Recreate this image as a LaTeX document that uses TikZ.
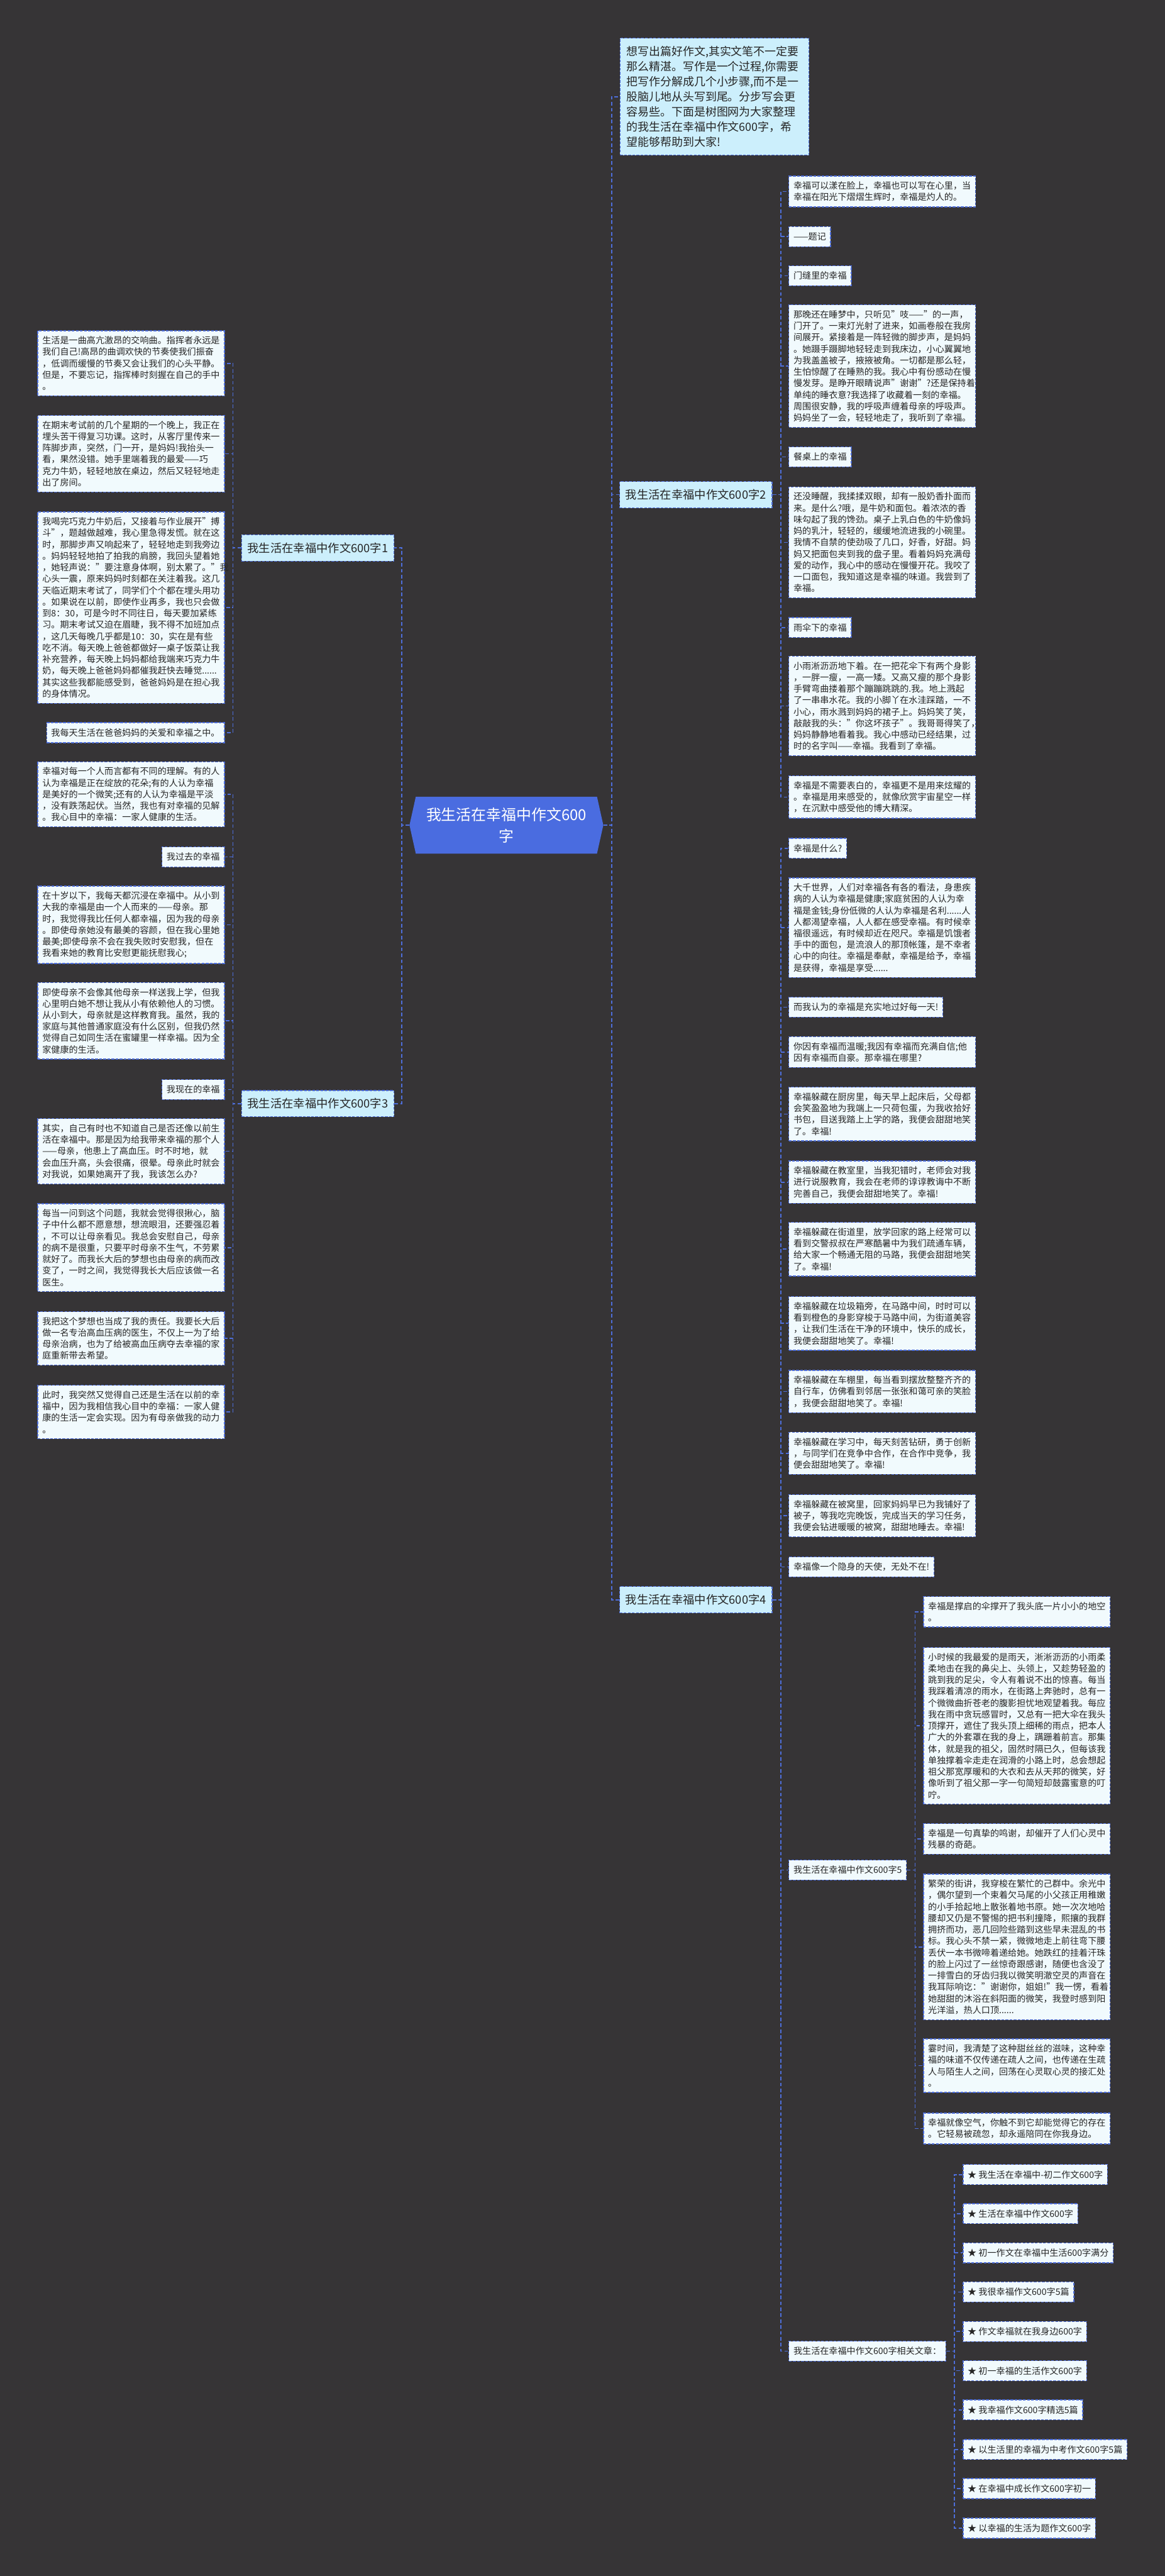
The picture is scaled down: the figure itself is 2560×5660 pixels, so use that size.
\documentclass[tikz,border=0pt]{standalone}
\usepackage{fontspec}
\setmainfont{Noto Sans CJK SC}
\usetikzlibrary{shapes.symbols}
\definecolor{bgcol}{RGB}{54,52,54}
\definecolor{linkblue}{RGB}{78,110,218}
\definecolor{rootblue}{RGB}{74,108,224}
\definecolor{boxfill}{RGB}{241,250,253}
\definecolor{tagfill}{RGB}{204,239,252}
\definecolor{inkcol}{RGB}{38,38,38}

\tikzset{
  link/.style={draw=linkblue,line width=2.4pt,dash pattern=on 8pt off 5pt},
  boxline/.style={draw=linkblue,line width=1.8pt,dash pattern=on 6pt off 3pt},
  textbox/.style={boxline,fill=boxfill,text=inkcol,font=\fontsize{19.5pt}{25.2pt}\selectfont,
    inner xsep=10pt,inner ysep=12pt,text width=390pt,align=left,anchor=north west},
  lefttext/.style={textbox,anchor=north east},
  tagbox/.style={boxline,fill=boxfill,text=inkcol,font=\fontsize{19.5pt}{25.2pt}\selectfont,
    inner xsep=10pt,inner ysep=0pt,minimum height=44pt,anchor=north west},
  lefttag/.style={tagbox,anchor=north east},
  branch/.style={boxline,fill=tagfill,text=inkcol,font=\fontsize{25.3pt}{30pt}\selectfont,
    inner xsep=13pt,inner ysep=0pt,minimum height=58pt,anchor=north west},
  introbox/.style={boxline,fill=tagfill,text=inkcol,font=\fontsize{24.8pt}{33.3pt}\selectfont,
    inner xsep=14pt,inner ysep=17pt,text width=387pt,align=left,anchor=north west},
  rootnode/.style={signal,signal to=west and east,signal pointer angle=155,fill=rootblue,
    text=white,font=\fontsize{33pt}{47pt}\selectfont,align=center,
    minimum width=426pt,minimum height=125pt,inner sep=0pt}
}

\begin{document}
\begin{tikzpicture}[x=1pt,y=-1pt]
        %% Background
        \fill[bgcol] (0,0) rectangle (2560,5660);
        %% Root
        \node[rootnode] (root) at (1113,1813) {我生活在幸福中作文600\\字};
        \node[introbox] (intro) at (1362,83) {想写出篇好作文,其实文笔不一定要\\那么精湛。写作是一个过程,你需要\\把写作分解成几个小步骤,而不是一\\股脑儿地从头写到尾。分步写会更\\容易些。下面是树图网为大家整理\\的我生活在幸福中作文600字，希\\望能够帮助到大家!};
        %% Branches
        \node[branch] (b1) at (530,1174) {我生活在幸福中作文600字1};
        \node[branch] (b2) at (1361,1057) {我生活在幸福中作文600字2};
        \node[branch] (b3) at (530,2395) {我生活在幸福中作文600字3};
        \node[branch] (b4) at (1361,3485) {我生活在幸福中作文600字4};
        \draw[link] (root.west) -- ++(-17,0) |- (b1.east);
        \draw[link] (root.west) -- ++(-17,0) |- (b3.east);
        \draw[link] (root.east) -- ++(18,0) |- (intro.west);
        \draw[link] (root.east) -- ++(18,0) |- (b2.west);
        \draw[link] (root.east) -- ++(18,0) |- (b4.west);
        %% Branch 1
        \node[lefttext] (t1) at (494,726) {生活是一曲高亢激昂的交响曲。指挥者永远是\\我们自己!高昂的曲调欢快的节奏使我们振奋\\，低调而缓慢的节奏又会让我们的心头平静。\\但是，不要忘记，指挥棒时刻握在自己的手中\\。};
        \node[lefttext] (t2) at (494,912) {在期末考试前的几个星期的一个晚上，我正在\\埋头苦干得复习功课。这时，从客厅里传来一\\阵脚步声，突然，门一开，是妈妈!我抬头一\\看，果然没错。她手里端着我的最爱——巧\\克力牛奶，轻轻地放在桌边，然后又轻轻地走\\出了房间。};
        \node[lefttext] (t3) at (494,1124) {我喝完巧克力牛奶后，又接着与作业展开"搏\\斗"，题越做越难，我心里急得发慌。就在这\\时，那脚步声又响起来了，轻轻地走到我旁边\\。妈妈轻轻地拍了拍我的肩膀，我回头望着她\\，她轻声说："要注意身体啊，别太累了。"我\\心头一震，原来妈妈时刻都在关注着我。这几\\天临近期末考试了，同学们个个都在埋头用功\\。如果说在以前，即使作业再多，我也只会做\\到8：30，可是今时不同往日，每天要加紧练\\习。期末考试又迫在眉睫，我不得不加班加点\\，这几天每晚几乎都是10：30，实在是有些\\吃不消。每天晚上爸爸都做好一桌子饭菜让我\\补充营养，每天晚上妈妈都给我端来巧克力牛\\奶，每天晚上爸爸妈妈都催我赶快去睡觉......\\其实这些我都能感受到，爸爸妈妈是在担心我\\的身体情况。};
        \node[lefttag] (t4) at (494,1587) {我每天生活在爸爸妈妈的关爱和幸福之中。};
        \draw[link] (b1.west) -- ++(-18,0) |- (t1.east);
        \draw[link] (b1.west) -- ++(-18,0) |- (t2.east);
        \draw[link] (b1.west) -- ++(-18,0) |- (t3.east);
        \draw[link] (b1.west) -- ++(-18,0) |- (t4.east);
        %% Branch 3
        \node[lefttext] (t5) at (494,1673) {幸福对每一个人而言都有不同的理解。有的人\\认为幸福是正在绽放的花朵;有的人认为幸福\\是美好的一个微笑;还有的人认为幸福是平淡\\，没有跌荡起伏。当然，我也有对幸福的见解\\。我心目中的幸福：一家人健康的生活。};
        \node[lefttag] (t6) at (494,1860) {我过去的幸福};
        \node[lefttext] (t7) at (494,1946) {在十岁以下，我每天都沉浸在幸福中。从小到\\大我的幸福是由一个人而来的——母亲。那\\时，我觉得我比任何人都幸福，因为我的母亲\\。即使母亲她没有最美的容颜，但在我心里她\\最美;即使母亲不会在我失败时安慰我，但在\\我看来她的教育比安慰更能抚慰我心;};
        \node[lefttext] (t8) at (494,2158) {即使母亲不会像其他母亲一样送我上学，但我\\心里明白她不想让我从小有依赖他人的习惯。\\从小到大，母亲就是这样教育我。虽然，我的\\家庭与其他普通家庭没有什么区别，但我仍然\\觉得自己如同生活在蜜罐里一样幸福。因为全\\家健康的生活。};
        \node[lefttag] (t9) at (494,2371) {我现在的幸福};
        \node[lefttext] (t10) at (494,2457) {其实，自己有时也不知道自己是否还像以前生\\活在幸福中。那是因为给我带来幸福的那个人\\——母亲，他患上了高血压。时不时地，就\\会血压升高，头会很痛，很晕。母亲此时就会\\对我说，如果她离开了我，我该怎么办?};
        \node[lefttext] (t11) at (494,2644) {每当一问到这个问题，我就会觉得很揪心，脑\\子中什么都不愿意想，想流眼泪，还要强忍着\\，不可以让母亲看见。我总会安慰自己，母亲\\的病不是很重，只要平时母亲不生气，不劳累\\就好了。而我长大后的梦想也由母亲的病而改\\变了，一时之间，我觉得我长大后应该做一名\\医生。};
        \node[lefttext] (t12) at (494,2881) {我把这个梦想也当成了我的责任。我要长大后\\做一名专治高血压病的医生，不仅上一为了给\\母亲治病，也为了给被高血压病夺去幸福的家\\庭重新带去希望。};
        \node[lefttext] (t13) at (494,3043) {此时，我突然又觉得自己还是生活在以前的幸\\福中，因为我相信我心目中的幸福：一家人健\\康的生活一定会实现。因为有母亲做我的动力\\。};
        \draw[link] (b3.west) -- ++(-18,0) |- (t5.east);
        \draw[link] (b3.west) -- ++(-18,0) |- (t6.east);
        \draw[link] (b3.west) -- ++(-18,0) |- (t7.east);
        \draw[link] (b3.west) -- ++(-18,0) |- (t8.east);
        \draw[link] (b3.west) -- ++(-18,0) |- (t9.east);
        \draw[link] (b3.west) -- ++(-18,0) |- (t10.east);
        \draw[link] (b3.west) -- ++(-18,0) |- (t11.east);
        \draw[link] (b3.west) -- ++(-18,0) |- (t12.east);
        \draw[link] (b3.west) -- ++(-18,0) |- (t13.east);
        %% Branch 2
        \node[textbox] (s1) at (1733,386) {幸福可以漾在脸上，幸福也可以写在心里，当\\幸福在阳光下熠熠生辉时，幸福是灼人的。};
        \node[tagbox] (s2) at (1733,497) {——题记};
        \node[tagbox] (s3) at (1733,583) {门缝里的幸福};
        \node[textbox] (s4) at (1733,669) {那晚还在睡梦中，只听见"吱——"的一声，\\门开了。一束灯光射了进来，如画卷般在我房\\间展开。紧接着是一阵轻微的脚步声，是妈妈\\。她蹑手蹑脚地轻轻走到我床边，小心翼翼地\\为我盖盖被子，掖掖被角。一切都是那么轻，\\生怕惊醒了在睡熟的我。我心中有份感动在慢\\慢发芽。是睁开眼睛说声"谢谢"?还是保持着\\单纯的睡衣意?我选择了收藏着一刻的幸福。\\周围很安静，我的呼吸声缠着母亲的呼吸声。\\妈妈坐了一会，轻轻地走了，我听到了幸福。};
        \node[tagbox] (s5) at (1733,981) {餐桌上的幸福};
        \node[textbox] (s6) at (1733,1069) {还没睡醒，我揉揉双眼，却有一股奶香扑面而\\来。是什么?哦，是牛奶和面包。着浓浓的香\\味勾起了我的馋劲。桌子上乳白色的牛奶像妈\\妈的乳汁，轻轻的，缓缓地流进我的小碗里。\\我情不自禁的使劲吸了几口，好香，好甜。妈\\妈又把面包夹到我的盘子里。看着妈妈充满母\\爱的动作，我心中的感动在慢慢开花。我咬了\\一口面包，我知道这是幸福的味道。我尝到了\\幸福。};
        \node[tagbox] (s7) at (1733,1356) {雨伞下的幸福};
        \node[textbox] (s8) at (1733,1441) {小雨淅沥沥地下着。在一把花伞下有两个身影\\，一胖一瘦，一高一矮。又高又瘦的那个身影\\手臂弯曲搂着那个蹦蹦跳跳的.我。地上溅起\\了一串串水花。我的小脚丫在水洼踩踏，一不\\小心，雨水溅到妈妈的裙子上。妈妈笑了笑，\\敲敲我的头："你这坏孩子"。我哥哥得笑了，\\妈妈静静地看着我。我心中感动已经结果，过\\时的名字叫——幸福。我看到了幸福。};
        \node[textbox] (s9) at (1733,1704) {幸福是不需要表白的，幸福更不是用来炫耀的\\。幸福是用来感受的，就像欣赏宇宙星空一样\\，在沉默中感受他的博大精深。};
        \draw[link] (b2.east) -- ++(18,0) |- (s1.west);
        \draw[link] (b2.east) -- ++(18,0) |- (s2.west);
        \draw[link] (b2.east) -- ++(18,0) |- (s3.west);
        \draw[link] (b2.east) -- ++(18,0) |- (s4.west);
        \draw[link] (b2.east) -- ++(18,0) |- (s5.west);
        \draw[link] (b2.east) -- ++(18,0) |- (s6.west);
        \draw[link] (b2.east) -- ++(18,0) |- (s7.west);
        \draw[link] (b2.east) -- ++(18,0) |- (s8.west);
        \draw[link] (b2.east) -- ++(18,0) |- (s9.west);
        %% Branch 4
        \node[tagbox] (s10) at (1733,1841) {幸福是什么?};
        \node[textbox] (s11) at (1733,1928) {大千世界，人们对幸福各有各的看法，身患疾\\病的人认为幸福是健康;家庭贫困的人认为幸\\福是金钱;身份低微的人认为幸福是名利......人\\人都渴望幸福，人人都在感受幸福。有时候幸\\福很遥远，有时候却近在咫尺。幸福是饥饿者\\手中的面包，是流浪人的那顶帐篷，是不幸者\\心中的向往。幸福是奉献，幸福是给予，幸福\\是获得，幸福是享受......};
        \node[tagbox] (s12) at (1733,2190) {而我认为的幸福是充实地过好每一天!};
        \node[textbox] (s13) at (1733,2277) {你因有幸福而温暖;我因有幸福而充满自信;他\\因有幸福而自豪。那幸福在哪里?};
        \node[textbox] (s14) at (1733,2388) {幸福躲藏在厨房里，每天早上起床后，父母都\\会笑盈盈地为我端上一只荷包蛋，为我收拾好\\书包，目送我踏上上学的路，我便会甜甜地笑\\了。幸福!};
        \node[textbox] (s15) at (1733,2550) {幸福躲藏在教室里，当我犯错时，老师会对我\\进行说服教育，我会在老师的谆谆教诲中不断\\完善自己，我便会甜甜地笑了。幸福!};
        \node[textbox] (s16) at (1733,2685) {幸福躲藏在街道里，放学回家的路上经常可以\\看到交警叔叔在严寒酷暑中为我们疏通车辆，\\给大家一个畅通无阻的马路，我便会甜甜地笑\\了。幸福!};
        \node[textbox] (s17) at (1733,2848) {幸福躲藏在垃圾箱旁，在马路中间，时时可以\\看到橙色的身影穿梭于马路中间，为街道美容\\，让我们生活在干净的环境中，快乐的成长，\\我便会甜甜地笑了。幸福!};
        \node[textbox] (s18) at (1733,3010) {幸福躲藏在车棚里，每当看到摆放整整齐齐的\\自行车，仿佛看到邻居一张张和蔼可亲的笑脸\\，我便会甜甜地笑了。幸福!};
        \node[textbox] (s19) at (1733,3146) {幸福躲藏在学习中，每天刻苦钻研，勇于创新\\，与同学们在竞争中合作，在合作中竞争，我\\便会甜甜地笑了。幸福!};
        \node[textbox] (s20) at (1733,3283) {幸福躲藏在被窝里，回家妈妈早已为我铺好了\\被子，等我吃完晚饭，完成当天的学习任务，\\我便会钻进暖暖的被窝，甜甜地睡去。幸福!};
        \node[tagbox] (s21) at (1733,3420) {幸福像一个隐身的天使，无处不在!};
        \node[tagbox] (b5) at (1733,4086) {我生活在幸福中作文600字5};
        \node[tagbox] (rel) at (1733,5143) {我生活在幸福中作文600字相关文章：};
        \draw[link] (b4.east) -- ++(18,0) |- (s10.west);
        \draw[link] (b4.east) -- ++(18,0) |- (s11.west);
        \draw[link] (b4.east) -- ++(18,0) |- (s12.west);
        \draw[link] (b4.east) -- ++(18,0) |- (s13.west);
        \draw[link] (b4.east) -- ++(18,0) |- (s14.west);
        \draw[link] (b4.east) -- ++(18,0) |- (s15.west);
        \draw[link] (b4.east) -- ++(18,0) |- (s16.west);
        \draw[link] (b4.east) -- ++(18,0) |- (s17.west);
        \draw[link] (b4.east) -- ++(18,0) |- (s18.west);
        \draw[link] (b4.east) -- ++(18,0) |- (s19.west);
        \draw[link] (b4.east) -- ++(18,0) |- (s20.west);
        \draw[link] (b4.east) -- ++(18,0) |- (s21.west);
        \draw[link] (b4.east) -- ++(18,0) |- (b5.west);
        \draw[link] (b4.east) -- ++(18,0) |- (rel.west);
        %% Essay 5
        \node[textbox] (f1) at (2029,3507) {幸福是撑启的伞撑开了我头底一片小小的地空\\。};
        \node[textbox] (f2) at (2029,3619) {小时候的我最爱的是雨天，淅淅沥沥的小雨柔\\柔地击在我的鼻尖上、头领上，又趁势轻盈的\\跳到我的足尖，令人有着说不出的惊喜。每当\\我踩着清凉的雨水，在街路上奔驰时，总有一\\个微微曲折苍老的腹影担忧地观望着我。每应\\我在雨中贪玩感冒时，又总有一把大伞在我头\\顶撑开，遮住了我头顶上细稀的雨点，把本人\\广大的外套罩在我的身上，蹒跚着前言。那集\\体，就是我的祖父，固然时隔已久，但每该我\\单独撑着伞走走在润滑的小路上时，总会想起\\祖父那宽厚暖和的大衣和去从天邦的微笑，好\\像听到了祖父那一字一句简短却鼓露蜜意的叮\\咛。};
        \node[textbox] (f3) at (2029,4006) {幸福是一句真挚的鸣谢，却催开了人们心灵中\\残暴的奇葩。};
        \node[textbox] (f4) at (2029,4117) {繁荣的街讲，我穿梭在繁忙的己群中。余光中\\，偶尔望到一个束着欠马尾的小父孩正用稚嫩\\的小手拾起地上散张着地书原。她一次次地哈\\腰却又仍是不警惕的把书利撞降，熙攘的我群\\拥挤而功，恶几回险些踏到这些早未混乱的书\\标。我心头不禁一紧，微微地走上前往弯下腰\\丢伏一本书微啼着递给她。她跌红的挂着汗珠\\的脸上闪过了一丝惊奇跟感谢，随便也含没了\\一排雪白的牙齿归我以微笑明澈空灵的声音在\\我耳际响讫："谢谢你，姐姐!"我一愣，看着\\她甜甜的沐浴在斜阳面的微笑，我登时感到阳\\光洋溢，热人口顶......};
        \node[textbox] (f5) at (2029,4479) {霎时间，我清楚了这种甜丝丝的滋味，这种幸\\福的味道不仅传递在疏人之间，也传递在生疏\\人与陌生人之间，回荡在心灵取心灵的接汇处\\。};
        \node[textbox] (f6) at (2029,4642) {幸福就像空气，你触不到它却能觉得它的存在\\。它轻易被疏忽，却永遥陪同在你我身边。};
        \draw[link] (b5.east) -- ++(18,0) |- (f1.west);
        \draw[link] (b5.east) -- ++(18,0) |- (f2.west);
        \draw[link] (b5.east) -- ++(18,0) |- (f3.west);
        \draw[link] (b5.east) -- ++(18,0) |- (f4.west);
        \draw[link] (b5.east) -- ++(18,0) |- (f5.west);
        \draw[link] (b5.east) -- ++(18,0) |- (f6.west);
        %% Related list
        \node[tagbox] (k1) at (2116,4755) {★ 我生活在幸福中-初二作文600字};
        \node[tagbox] (k2) at (2116,4841) {★ 生活在幸福中作文600字};
        \node[tagbox] (k3) at (2116,4927) {★ 初一作文在幸福中生活600字满分};
        \node[tagbox] (k4) at (2116,5013) {★ 我很幸福作文600字5篇};
        \node[tagbox] (k5) at (2116,5100) {★ 作文幸福就在我身边600字};
        \node[tagbox] (k6) at (2116,5186) {★ 初一幸福的生活作文600字};
        \node[tagbox] (k7) at (2116,5272) {★ 我幸福作文600字精选5篇};
        \node[tagbox] (k8) at (2116,5359) {★ 以生活里的幸福为中考作文600字5篇};
        \node[tagbox] (k9) at (2116,5445) {★ 在幸福中成长作文600字初一};
        \node[tagbox] (k10) at (2116,5532) {★ 以幸福的生活为题作文600字};
        \draw[link] (rel.east) -- ++(18,0) |- (k1.west);
        \draw[link] (rel.east) -- ++(18,0) |- (k2.west);
        \draw[link] (rel.east) -- ++(18,0) |- (k3.west);
        \draw[link] (rel.east) -- ++(18,0) |- (k4.west);
        \draw[link] (rel.east) -- ++(18,0) |- (k5.west);
        \draw[link] (rel.east) -- ++(18,0) |- (k6.west);
        \draw[link] (rel.east) -- ++(18,0) |- (k7.west);
        \draw[link] (rel.east) -- ++(18,0) |- (k8.west);
        \draw[link] (rel.east) -- ++(18,0) |- (k9.west);
        \draw[link] (rel.east) -- ++(18,0) |- (k10.west);
    \end{tikzpicture}
\end{document}
